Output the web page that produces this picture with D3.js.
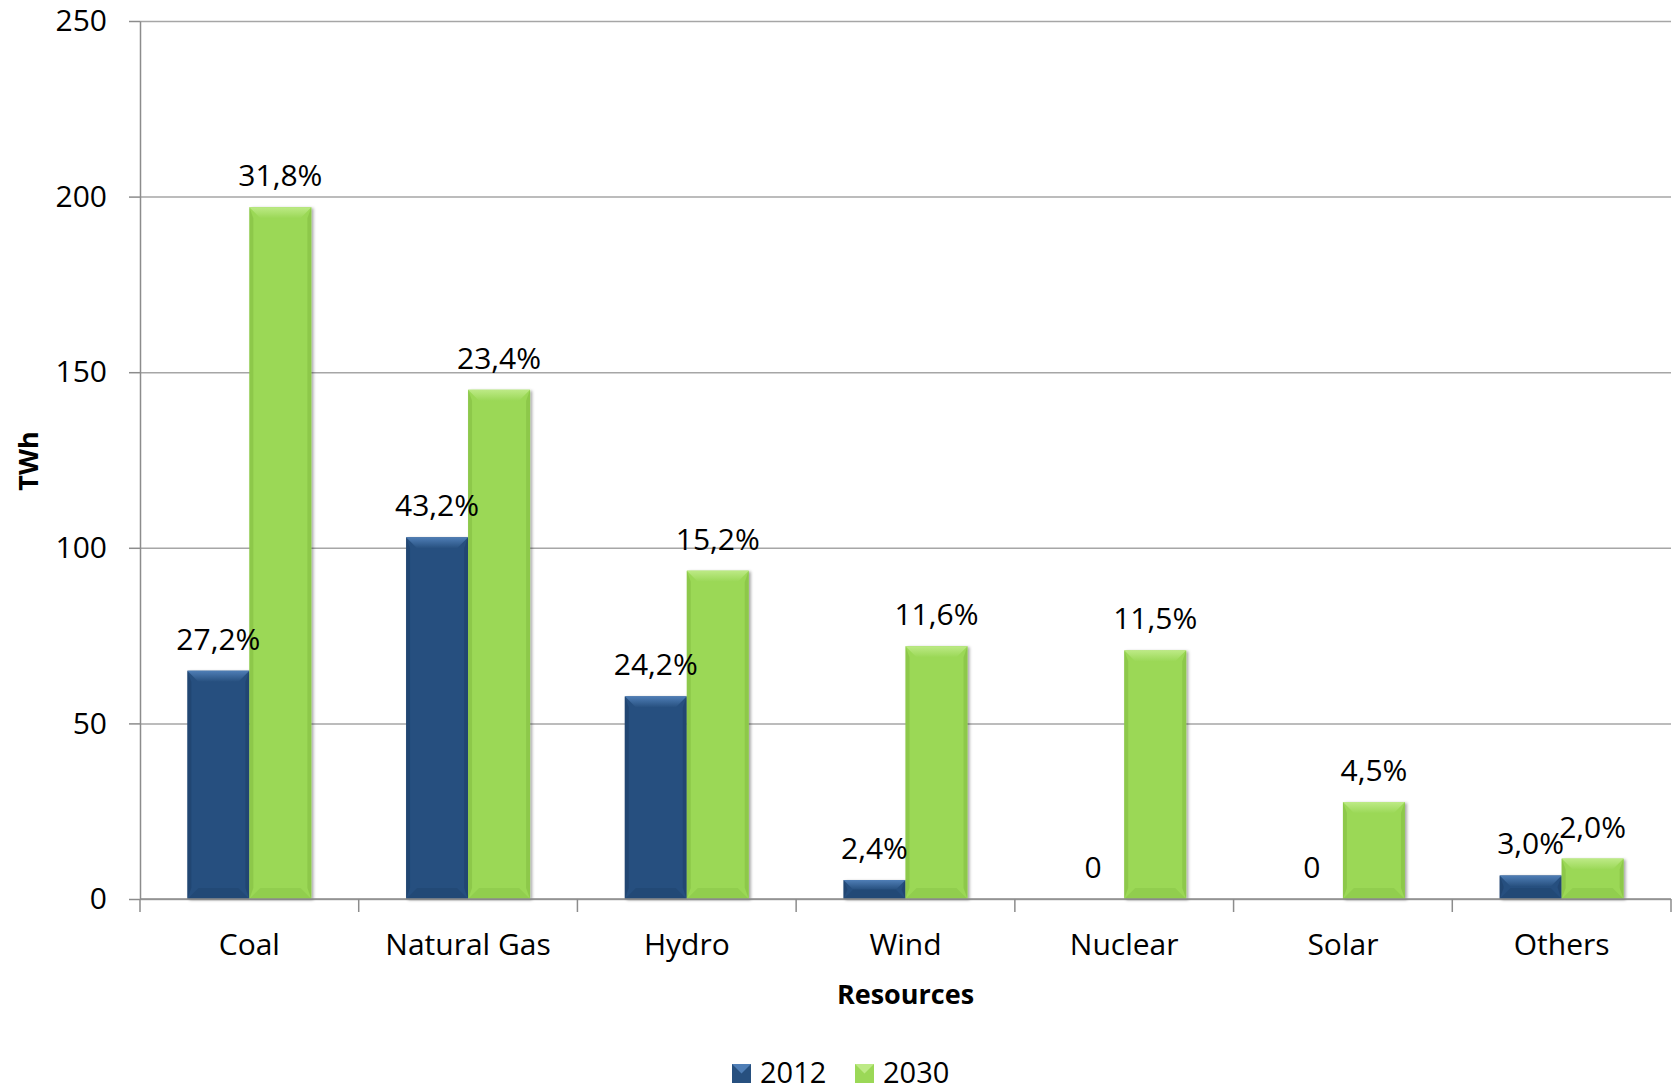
<!DOCTYPE html>
<html>
<head>
<meta charset="utf-8">
<script src="https://cdn.jsdelivr.net/npm/d3@7"></script>
<style>
  html, body { margin: 0; padding: 0; background: #fff; }
  svg { display: block; font-family: 'Open Sans', sans-serif; }
</style>
</head>
<body>
<div class="container"></div>
<script>
const categories = ['Coal', 'Natural Gas', 'Hydro', 'Wind', 'Nuclear', 'Solar', 'Others']
const series = ['2012', '2030']
const values2012 = [65, 103, 57.7, 5.4, 0, 0, 6.7]
const values2030 = [197, 145, 93.5, 72, 70.8, 27.6, 11.5]
const labels2012 = ['27,2%', '43,2%', '24,2%', '2,4%', '0', '0', '3,0%']
const labels2030 = ['31,8%', '23,4%', '15,2%', '11,6%', '11,5%', '4,5%', '2,0%']
const yTicks = [0, 50, 100, 150, 200, 250]

const w = 1675
const h = 1090
const plotLeft = 140
const plotRight = 1671
const plotTop = 21
const plotBottom = 899

const colors = {
  '2012': { main: '#27507f', light: '#4f7eb6', dark: '#1c3c63' },
  '2030': { main: '#9bd857', light: '#bdea86', dark: '#7cb63c' }
}

const data = categories.map((c, i) => ({
  cat: c,
  vals: [
    { s: '2012', v: values2012[i], label: labels2012[i] },
    { s: '2030', v: values2030[i], label: labels2030[i] }
  ]
}))

const svg = d3.select('.container')
  .append('svg')
  .attr('width', w)
  .attr('height', h)

const defs = svg.append('defs')
const shadow = defs.append('filter').attr('id', 'shadow')
  .attr('x', '-20%').attr('y', '-20%').attr('width', '140%').attr('height', '140%')
shadow.append('feDropShadow')
  .attr('dx', 2).attr('dy', 1).attr('stdDeviation', 1.5)
  .attr('flood-color', '#000').attr('flood-opacity', 0.35)

// soft gradient for the top bevel
series.forEach(s => {
  const g = defs.append('linearGradient').attr('id', 'top' + s)
    .attr('x1', 0).attr('y1', 0).attr('x2', 0).attr('y2', 1)
  g.append('stop').attr('offset', '0%').attr('stop-color', colors[s].light)
  g.append('stop').attr('offset', '100%').attr('stop-color', colors[s].main)
})

const xScale = d3.scaleBand()
  .domain(categories)
  .range([plotLeft, plotRight])

const bw = xScale.bandwidth()
const barW = 62
const xInner = d3.scaleBand()
  .domain(series)
  .range([bw / 2 - barW, bw / 2 + barW])

const yScale = d3.scaleLinear()
  .domain([0, 250])
  .range([plotBottom, plotTop])

// gridlines
svg.append('g')
  .attr('transform', `translate(${plotLeft}, 0)`)
  .call(d3.axisLeft(yScale).tickValues(yTicks).tickSize(-(plotRight - plotLeft)).tickFormat(''))
  .call(g => g.select('.domain').remove())
  .call(g => g.selectAll('line').attr('stroke', '#a6a6a6').attr('stroke-width', 1.5))

// y axis
svg.append('g')
  .attr('id', 'y-axis')
  .attr('transform', `translate(${plotLeft}, 0)`)
  .call(d3.axisLeft(yScale).tickValues(yTicks).tickSize(11).tickPadding(22).tickSizeOuter(0))
  .call(g => g.select('.domain').attr('stroke', '#8c8c8c').attr('stroke-width', 1.5))
  .call(g => g.selectAll('line').attr('stroke', '#8c8c8c').attr('stroke-width', 1.5))
  .call(g => g.selectAll('text').attr('font-size', 30).attr('fill', '#000')
    .attr('font-family', "'Open Sans', sans-serif"))

// bars
const groups = svg.selectAll('.grp')
  .data(data)
  .enter()
  .append('g')
  .attr('class', 'grp')
  .attr('transform', d => `translate(${xScale(d.cat)}, 0)`)

const bars = groups.selectAll('.bar')
  .data(d => d.vals.filter(v => v.v > 0))
  .enter()
  .append('g')
  .attr('class', 'bar')

bars.append('rect')
  .attr('x', d => xInner(d.s))
  .attr('y', d => yScale(d.v))
  .attr('width', xInner.bandwidth())
  .attr('height', d => yScale(0) - yScale(d.v))
  .attr('fill', d => colors[d.s].main)
  .attr('filter', 'url(#shadow)')

// bevel: top, sides, bottom
const bev = 11
bars.append('path')
  .attr('d', d => {
    const x0 = xInner(d.s), x1 = x0 + xInner.bandwidth(), y0 = yScale(d.v)
    const b = Math.min(bev, (yScale(0) - y0) / 2)
    return `M${x0},${y0}L${x1},${y0}L${x1 - b},${y0 + b}L${x0 + b},${y0 + b}Z`
  })
  .attr('fill', d => `url(#top${d.s})`)

bars.append('path')
  .attr('d', d => {
    const x0 = xInner(d.s), x1 = x0 + xInner.bandwidth(), y0 = yScale(d.v), y1 = yScale(0)
    const b = Math.min(bev, (y1 - y0) / 2)
    return `M${x0},${y1}L${x1},${y1}L${x1 - b},${y1 - b}L${x0 + b},${y1 - b}Z`
  })
  .attr('fill', d => colors[d.s].dark)
  .attr('opacity', 0.3)

bars.append('path')
  .attr('d', d => {
    const x0 = xInner(d.s), x1 = x0 + xInner.bandwidth(), y0 = yScale(d.v), y1 = yScale(0)
    const b = Math.min(bev, (y1 - y0) / 2)
    return `M${x0},${y0}L${x0 + 4},${y0 + b}L${x0 + 4},${y1 - b}L${x0},${y1}Z` +
      `M${x1},${y0}L${x1 - 4},${y0 + b}L${x1 - 4},${y1 - b}L${x1},${y1}Z`
  })
  .attr('fill', d => colors[d.s].dark)
  .attr('opacity', 0.45)

// value labels
groups.selectAll('.lbl')
  .data(d => d.vals)
  .enter()
  .append('text')
  .attr('class', 'lbl')
  .attr('x', d => xInner(d.s) + xInner.bandwidth() / 2)
  .attr('y', d => yScale(d.v) - 21)
  .attr('text-anchor', 'middle')
  .attr('font-size', 30)
  .attr('fill', '#000')
  .text(d => d.label)

// x axis
const xAxis = svg.append('g').attr('id', 'x-axis')
xAxis.append('line')
  .attr('x1', plotLeft).attr('x2', plotRight)
  .attr('y1', yScale(0)).attr('y2', yScale(0))
  .attr('stroke', '#8c8c8c').attr('stroke-width', 1.5)
xAxis.selectAll('.tick')
  .data(categories.concat(['end']))
  .enter()
  .append('line')
  .attr('x1', d => d === 'end' ? plotRight : xScale(d))
  .attr('x2', d => d === 'end' ? plotRight : xScale(d))
  .attr('y1', yScale(0)).attr('y2', yScale(0) + 13)
  .attr('stroke', '#8c8c8c').attr('stroke-width', 1.5)
xAxis.selectAll('.cat')
  .data(categories)
  .enter()
  .append('text')
  .attr('x', d => xScale(d) + bw / 2)
  .attr('y', 955)
  .attr('text-anchor', 'middle')
  .attr('font-size', 30)
  .attr('fill', '#000')
  .text(d => d)

// axis titles
svg.append('text')
  .text('Resources')
  .attr('x', (plotLeft + plotRight) / 2)
  .attr('y', 1004)
  .attr('text-anchor', 'middle')
  .attr('font-size', 27)
  .attr('font-weight', 'bold')
  .attr('fill', '#000')

svg.append('text')
  .text('TWh')
  .attr('transform', 'translate(38, 461) rotate(-90)')
  .attr('text-anchor', 'middle')
  .attr('font-size', 27)
  .attr('font-weight', 'bold')
  .attr('fill', '#000')

// legend
const legendX = [732, 855]
const legend = svg.selectAll('.legend')
  .data(series)
  .enter()
  .append('g')
  .attr('class', 'legend')
  .attr('transform', (d, i) => `translate(${legendX[i]}, 1064)`)

legend.append('rect')
  .attr('width', 19).attr('height', 19)
  .attr('fill', d => colors[d].main)
legend.append('path')
  .attr('d', 'M0,0L19,0L9.5,9.5Z')
  .attr('fill', d => colors[d].light)
legend.append('text')
  .attr('x', 28)
  .attr('y', 19)
  .attr('font-size', 29)
  .attr('fill', '#000')
  .text(d => d)
</script>
</body>
</html>
